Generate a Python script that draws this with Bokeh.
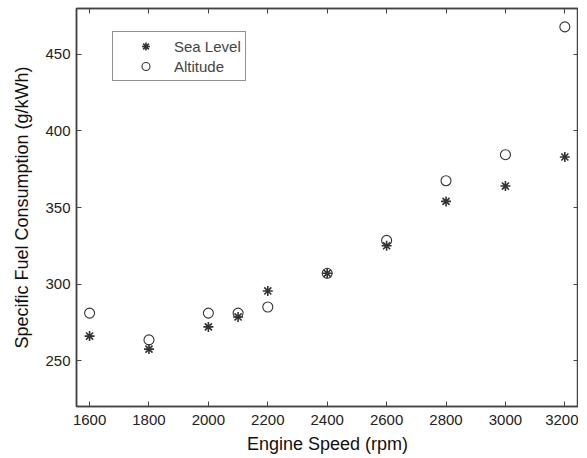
from bokeh.plotting import figure
from bokeh.models import LinearAxis, Range1d, FixedTicker, Legend, LegendItem
from bokeh.embed import file_html
from bokeh.resources import INLINE

speed = [1600, 1800, 2000, 2100, 2200, 2400, 2600, 2800, 3000, 3200]
sea_level = [266, 257.5, 272, 278.5, 295.5, 307, 325, 354, 364, 383]
altitude = [281, 263.5, 281, 281, 285, 307, 328.5, 367.5, 384.5, 468]
x_ticks = [1600, 1800, 2000, 2200, 2400, 2600, 2800, 3000, 3200]
y_ticks = [250, 300, 350, 400, 450]

FONT = "Liberation Sans"
GRAY = "#333333"

p = figure(frame_width=502, frame_height=398, output_backend="svg", toolbar_location=None,
           x_range=Range1d(1556, 3246), y_range=Range1d(220, 480),
           min_border_left=76, min_border_top=8, min_border_right=0, min_border_bottom=0,
           x_axis_location=None, y_axis_location=None)
p.xgrid.visible = False
p.ygrid.visible = False
p.outline_line_color = "#444444"
p.outline_line_width = 1.5
p.background_fill_color = "white"
p.border_fill_color = "white"

def style(ax, labels=True):
    ax.major_tick_in = 5
    ax.major_tick_out = 0
    ax.minor_tick_in = 0
    ax.minor_tick_out = 0
    ax.axis_line_color = "#444444"
    ax.axis_line_width = 1.5
    ax.major_tick_line_color = "#444444"
    ax.major_label_text_font = FONT
    ax.major_label_text_font_size = "15px"
    ax.major_label_text_color = "#222222"
    ax.axis_label_text_font = FONT
    ax.axis_label_text_font_size = "18px"
    ax.axis_label_text_font_style = "normal"
    ax.axis_label_text_color = "#111111"
    if not labels:
        ax.major_label_overrides = {t: "" for t in ax.ticker.ticks}
        ax.major_label_text_font_size = "1px"
        ax.major_label_standoff = 0

xb = LinearAxis(ticker=FixedTicker(ticks=x_ticks), axis_label="Engine Speed (rpm)")
style(xb)
xb.major_label_standoff = 8
xb.axis_label_standoff = 6
p.add_layout(xb, "below")
yl = LinearAxis(ticker=FixedTicker(ticks=y_ticks), axis_label="Specific Fuel Consumption (g/kWh)")
style(yl)
yl.major_label_standoff = 6
yl.axis_label_standoff = 10
p.add_layout(yl, "left")
xt = LinearAxis(ticker=FixedTicker(ticks=x_ticks))
style(xt, labels=False)
p.add_layout(xt, "above")
yr = LinearAxis(ticker=FixedTicker(ticks=y_ticks))
style(yr, labels=False)
p.add_layout(yr, "right")

r1 = p.scatter(speed, sea_level, marker="asterisk", size=10, line_color=GRAY, line_width=1.6)
r2 = p.scatter(speed, altitude, marker="circle", size=10, line_color=GRAY, fill_color=None, line_width=1.1)

leg = Legend(items=[LegendItem(label="Sea Level", renderers=[r1]),
                    LegendItem(label="Altitude", renderers=[r2])],
             location=(36, 325))
leg.border_line_color = "#222222"
leg.border_line_width = 1.2
leg.label_text_font = FONT
leg.label_text_font_size = "15px"
leg.label_height = 20
leg.glyph_height = 20
leg.spacing = 0
leg.padding = 4
leg.margin = 0
leg.label_standoff = 0
leg.glyph_width = 57
p.add_layout(leg)

open("out.html", "w").write(file_html(p, INLINE))
